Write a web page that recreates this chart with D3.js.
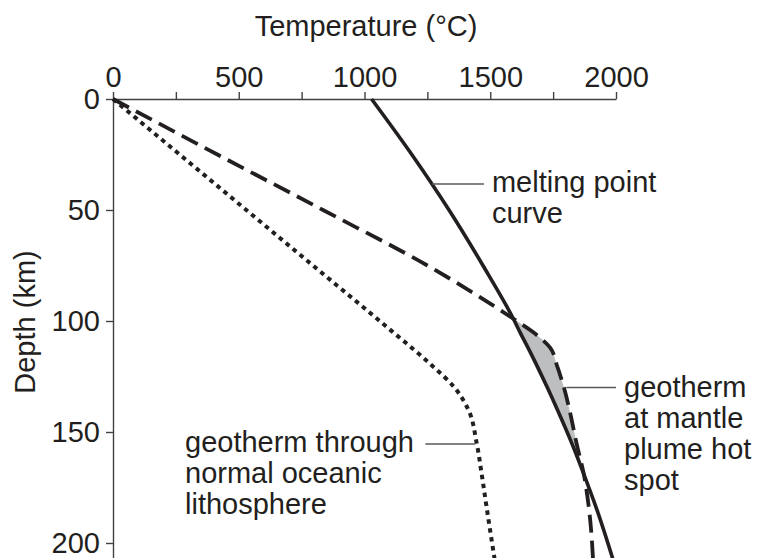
<!DOCTYPE html>
<html>
<head>
<meta charset="utf-8">
<script src="https://cdn.jsdelivr.net/npm/d3@7"></script>
<style>
    body { margin: 0; background: #fff; }
    text { font-family: "Liberation Sans", Arial, sans-serif; fill: #231f20; }
</style>
</head>
<body>
<div id="chart"></div>
<script>
// data, depth in km, temperature in °C
var depths = [0, 25, 50, 75, 99, 105, 112, 120, 130, 140, 155, 169, 185, 210];
var meltingPoint = [1028, 1188, 1336, 1471, 1592, 1618, 1650, 1685, 1727, 1767, 1824, 1872, 1924, 1995];
var plumeGeotherm = [0, 415, 835, 1250, 1592, 1670, 1738, 1765, 1793, 1815, 1843, 1872, 1893, 1910];
var oceanicGeotherm = [0, 265, 530, 795, 1050, 1113, 1187, 1268, 1358, 1413, 1446, 1466, 1487, 1521];

var tempTicks = [0, 250, 500, 750, 1000, 1250, 1500, 1750, 2000];
var depthTicks = [0, 50, 100, 150, 200];

// labels: leader depth, leader start/end temp, text lines
var labels = [
    { depth: 38.3, t0: 1268, t1: 1475, lines: ["melting point", "curve"], firstLine: 191.5 },
    { depth: 130, t0: 1803, t1: 2000, lines: ["geotherm", "at mantle", "plume hot", "spot"], firstLine: 397 },
    { depth: 155.4, t0: 1242, t1: 1440, lines: ["geotherm through", "normal oceanic", "lithosphere"], firstLine: 451.5, left: true }
];

var svgWidth = 758;
var svgHeight = 558;
var ink = "#231f20";
var fontSize = 29;

var svg = d3.select("#chart")
    .append("svg")
    .attr("width", svgWidth)
    .attr("height", svgHeight);

// scales
var xScale = d3.scaleLinear()
    .domain([0, 2000])
    .range([113, 616]);

var yScale = d3.scaleLinear()
    .domain([0, 210])
    .range([99, 565.2]);

var rows = depths.map(function(d, i) {
    return { depth: d, melt: meltingPoint[i], plume: plumeGeotherm[i], ocean: oceanicGeotherm[i] };
});

// shaded zone where plume geotherm is hotter than melting point
var shaded = rows.filter(d => d.depth >= 99 && d.depth <= 169);
var area = d3.area()
    .y(d => yScale(d.depth))
    .x0(d => xScale(d.melt))
    .x1(d => xScale(d.plume))
    .curve(d3.curveMonotoneY);

svg.append("path")
    .datum(shaded)
    .attr("d", area)
    .attr("fill", "#bcbec0");

// axes
var topAxis = d3.axisTop(xScale)
    .tickValues(tempTicks)
    .tickSize(7)
    .tickSizeOuter(0)
    .tickPadding(5)
    .tickFormat(d => d % 500 === 0 ? d : "");

var leftAxis = d3.axisLeft(yScale)
    .tickValues(depthTicks)
    .tickSize(7)
    .tickSizeOuter(0)
    .tickPadding(6);

var xAxisG = svg.append("g")
    .attr("transform", "translate(0, 99)")
    .call(topAxis);

var yAxisG = svg.append("g")
    .attr("transform", "translate(113, 0)")
    .call(leftAxis);

[xAxisG, yAxisG].forEach(function(g) {
    g.attr("font-size", fontSize)
        .attr("font-family", "Liberation Sans, Arial, sans-serif")
        .style("color", "#414042");
    g.selectAll("path, line").attr("stroke-width", 1.4);
    g.selectAll("text").style("fill", ink);
});

// axis titles
svg.append("text")
    .attr("x", 366)
    .attr("y", 36)
    .attr("text-anchor", "middle")
    .attr("font-size", fontSize)
    .text("Temperature (°C)");

svg.append("text")
    .attr("transform", "translate(35, 322) rotate(-90)")
    .attr("text-anchor", "middle")
    .attr("font-size", fontSize)
    .text("Depth (km)");

// curves
function curveLine(key) {
    return d3.line()
        .x(d => xScale(d[key]))
        .y(d => yScale(d.depth))
        .curve(d3.curveMonotoneY);
}

svg.append("path")
    .datum(rows)
    .attr("d", curveLine("ocean"))
    .attr("fill", "none")
    .attr("stroke", ink)
    .attr("stroke-width", 4)
    .attr("stroke-dasharray", "4.5,4.5");

svg.append("path")
    .datum(rows)
    .attr("d", curveLine("plume"))
    .attr("fill", "none")
    .attr("stroke", ink)
    .attr("stroke-width", 3.8)
    .attr("stroke-dasharray", "18,8");

svg.append("path")
    .datum(rows)
    .attr("d", curveLine("melt"))
    .attr("fill", "none")
    .attr("stroke", ink)
    .attr("stroke-width", 3.6);

// annotations
labels.forEach(function(lab) {
    var ly = yScale(lab.depth);
    svg.append("line")
        .attr("x1", xScale(lab.t0))
        .attr("x2", xScale(lab.t1))
        .attr("y1", ly)
        .attr("y2", ly)
        .attr("stroke", "#58595b")
        .attr("stroke-width", 1.5);

    var tx = lab.left ? 185 : xScale(lab.t1) + 8;
    var txt = svg.append("text")
        .attr("font-size", fontSize);
    lab.lines.forEach(function(s, i) {
        txt.append("tspan")
            .attr("x", tx)
            .attr("y", lab.firstLine + i * 31)
            .text(s);
    });
});
</script>
</body>
</html>
